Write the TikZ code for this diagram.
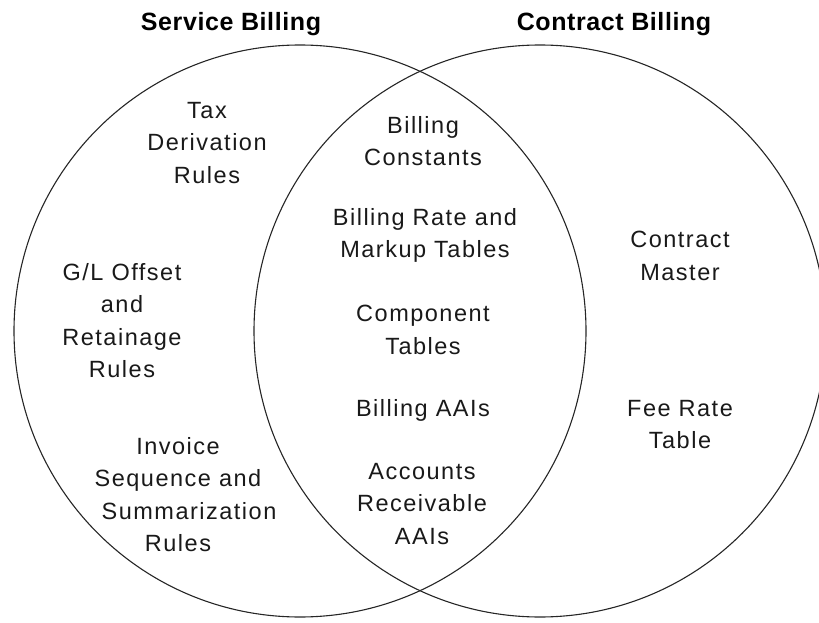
\documentclass[tikz,border=0pt]{standalone}
\usepackage{fontspec}
\setmainfont{Liberation Sans}[LetterSpace=6.4]
\newfontfamily\titlefont{Liberation Sans}[LetterSpace=2.4]
\tikzset{
  ring/.style={circle, draw=black!85, line width=1.1pt, minimum size=572pt, inner sep=0pt},
  title/.style={anchor=north, inner sep=0pt, font=\titlefont\bfseries\fontsize{25}{30}\selectfont},
  item/.style={anchor=north, inner sep=0pt, align=center, text=black!90, font=\fontsize{23.5}{32.5}\selectfont},
}
\begin{document}
\begin{tikzpicture}[x=1pt,y=-1pt]
\useasboundingbox (0,0) rectangle (819,623);
\clip (0,0) rectangle (819,623);
\node[ring] (sb) at (300,331) {};
\node[ring] (cb) at (540,331) {};
\node[title] (tsb) at (231,12) {Service Billing};
\node[title] (tcb) at (614,12) {Contract Billing};
\node[item] (tax) at (207,102) {Tax\\Derivation\\Rules};
\node[item] (gl) at (122,263) {G/L Offset\\and\\Retainage\\Rules};
\node[item] (inv) at (178,437) {Invoice\\Sequence and\\\hspace*{22pt}Summarization\\Rules};
\node[item] (bc) at (423,116) {Billing\\Constants};
\node[item] (br) at (425,208) {Billing Rate and\\Markup Tables};
\node[item] (ct) at (423,305) {Component\\Tables};
\node[item] (baai) at (423,399) {Billing AAIs};
\node[item] (ar) at (422,463) {Accounts\\Receivable\\AAIs};
\node[item] (cm) at (680,231) {Contract\\Master};
\node[item] (fr) at (680,400) {Fee Rate\\Table};
\end{tikzpicture}
\end{document}
